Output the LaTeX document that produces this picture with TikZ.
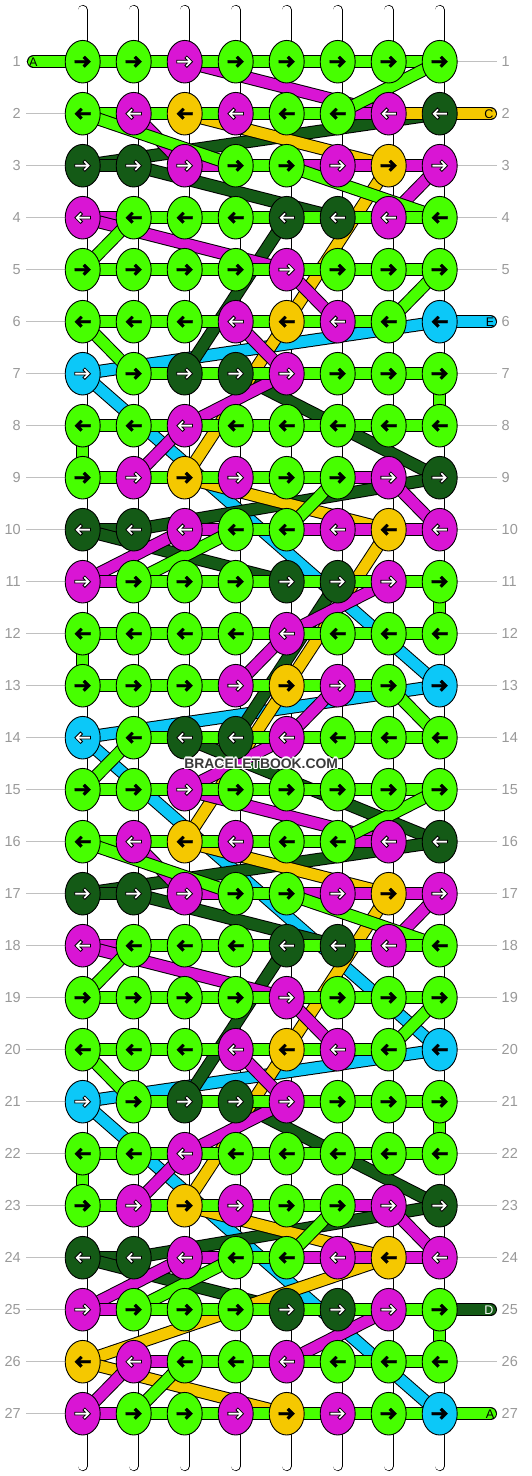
\documentclass[tikz,border=0pt]{standalone}
\usepackage{fontspec}
\setmainfont{Liberation Sans}
\usetikzlibrary{shapes.geometric}
\definecolor{cG}{HTML}{47FF00}
\definecolor{cM}{HTML}{D915D4}
\definecolor{cY}{HTML}{F5C800}
\definecolor{cD}{HTML}{145A16}
\definecolor{cC}{HTML}{0CC8F8}
\definecolor{numgrey}{HTML}{999999}
\definecolor{linegrey}{HTML}{C0C0C0}
\definecolor{wmgrey}{HTML}{3A3A3A}
\pgfdeclarelayer{bars}
\pgfdeclarelayer{strings}
\pgfsetlayers{bars,strings,main}
\tikzset{
 knot/.style={ellipse, draw=black, line width=0.9pt, minimum width=35pt, minimum height=42.6pt, inner sep=0pt, outer sep=0pt},
 knotG/.style={knot, fill=cG}, knotM/.style={knot, fill=cM}, knotY/.style={knot, fill=cY},
 knotD/.style={knot, fill=cD}, knotC/.style={knot, fill=cC}, knotc/.style={knot, fill=cC},
 blackarr/.style={fill=black, draw=black, line width=0.3pt, line join=miter},
 whitearr/.style={fill=white, draw=black, line width=0.8pt, line join=miter},
 arrG/.style={blackarr}, arrY/.style={blackarr}, arrc/.style={blackarr},
 arrM/.style={whitearr}, arrD/.style={whitearr}, arrC/.style={whitearr},
 str/.style={line width=1pt, double distance=11pt, line cap=round, line join=round},
 strG/.style={str, double=cG}, strM/.style={str, double=cM}, strY/.style={str, double=cY},
 strD/.style={str, double=cD}, strC/.style={str, double=cC},
 bar/.style={line width=0.8pt, double=white, double distance=8.6pt, line cap=round},
 rowline/.style={draw=linegrey, line width=1pt},
 rownum/.style={text=numgrey, font=\fontsize{14.5}{14.5}\selectfont, inner sep=0pt},
 lab/.style={font=\fontsize{12.5}{12.5}\selectfont, inner sep=0pt},
 wm/.style={font=\bfseries\fontsize{13.9}{13.9}\selectfont, inner sep=0pt},
}
\begin{document}
\begin{tikzpicture}[x=1pt, y=-1pt]
\useasboundingbox (0,0) rectangle (532,1476);
\begin{pgfonlayer}{bars}
\fill[white] (0,0) rectangle (532,1476);
\foreach \c in {1,...,8} {
  \draw[bar] (31.7+51*\c,10) -- (31.7+51*\c,1466);
}
\end{pgfonlayer}

% knots
\foreach \r/\row in {
1/{G,G,M,G,G,G,G,G},
2/{G,M,Y,M,G,G,M,D},
3/{D,D,M,G,G,M,Y,M},
4/{M,G,G,G,D,D,M,G},
5/{G,G,G,G,M,G,G,G},
6/{G,G,G,M,Y,M,G,c},
7/{C,G,D,D,M,G,G,G},
8/{G,G,M,G,G,G,G,G},
9/{G,M,Y,M,G,G,M,D},
10/{D,D,M,G,G,M,Y,M},
11/{M,G,G,G,D,D,M,G},
12/{G,G,G,G,M,G,G,G},
13/{G,G,G,M,Y,M,G,c},
14/{C,G,D,D,M,G,G,G},
15/{G,G,M,G,G,G,G,G},
16/{G,M,Y,M,G,G,M,D},
17/{D,D,M,G,G,M,Y,M},
18/{M,G,G,G,D,D,M,G},
19/{G,G,G,G,M,G,G,G},
20/{G,G,G,M,Y,M,G,c},
21/{C,G,D,D,M,G,G,G},
22/{G,G,M,G,G,G,G,G},
23/{G,M,Y,M,G,G,M,D},
24/{D,D,M,G,G,M,Y,M},
25/{M,G,G,G,D,D,M,G},
26/{Y,M,G,G,M,G,G,G},
27/{M,G,G,M,Y,M,G,c}} {
  \pgfmathsetmacro\Y{61.7+52*(\r-1)}
  \pgfmathsetmacro\dir{mod(\r,2)==1 ? 1 : -1}
  \foreach \col [count=\c] in \row {
    \pgfmathsetmacro\X{82.7+51*(\c-1)}
    \node[knot\col] (k\r-\c) at (\X,\Y) {};
    \draw[arr\col, shift={(\X,\Y)}, xscale=\dir*0.86, yscale=0.86]
      (-9.13,1.6) -- (3.01,1.6) -- (0.24,4.37) -- (2.5,6.63) -- (9.13,0)
      -- (2.5,-6.63) -- (0.24,-4.37) -- (3.01,-1.6) -- (-9.13,-1.6) -- cycle;
  }
}

\coordinate (LA) at (33.5,61.7);
\coordinate (RC) at (490.5,113.7);
\coordinate (RE) at (490.5,321.7);
\coordinate (RD) at (490.5,1309.7);
\coordinate (RA) at (490.5,1413.7);

\begin{pgfonlayer}{strings}
\foreach \r in {1,...,27} {
  \pgfmathsetmacro\Y{61.7+52*(\r-1)}
  \draw[rowline] (26,\Y) -- (k\r-1.center);
  \draw[rowline] (k\r-8.center) -- (497,\Y);
}
% cyan (E)
\foreach \p [remember=\p as \q (initially RE)] in {k6-8,k7-1,k13-8,k14-1,k20-8,k21-1,k27-8}
  \draw[strC] (\q.center) -- (\p.center);
% dark green (D)
\foreach \p [remember=\p as \q (initially k2-8)] in {k3-1,k3-2,k4-6,k4-5,k7-3,k7-4,k9-8,k10-2,k10-1,k11-5,k11-6,k14-4,k14-3,k16-8,k17-1,k17-2,k18-6,k18-5,k21-3,k21-4,k23-8,k24-2,k24-1,k25-5,k25-6,RD}
  \draw[strD] (\q.center) -- (\p.center);
% yellow (C)
\foreach \p [remember=\p as \q (initially RC)] in {k2-3,k3-7,k6-5,k9-3,k10-7,k13-5,k16-3,k17-7,k20-5,k23-3,k24-7,k26-1,k27-5}
  \draw[strY] (\q.center) -- (\p.center);
% magenta
\foreach \p [remember=\p as \q (initially k1-3)] in {k2-7,k2-2,k3-3,k3-8,k4-7,k4-1,k5-5,k6-6,k6-4,k7-5,k8-3,k9-2,k9-7,k10-8,k10-3,k11-1,k11-7,k12-5,k13-4,k13-6,k14-5,k15-3,k16-7,k16-2,k17-3,k17-8,k18-7,k18-1,k19-5,k20-6,k20-4,k21-5,k22-3,k23-2,k23-7,k24-8,k24-3,k25-1,k25-7,k26-5,k26-2,k27-1,k27-6}
  \draw[strM] (\q.center) -- (\p.center);
% green (A)
\foreach \p [remember=\p as \q (initially LA)] in {k1-8,k2-6,k2-1,k3-4,k3-5,k4-8,k4-2,k5-1,k5-8,k6-7,k6-1,k7-2,k7-8,k8-8,k8-1,k9-1,k9-6,k10-5,k10-4,k11-2,k11-8,k12-8,k12-1,k13-1,k13-7,k14-8,k14-2,k15-1,k15-8,k16-6,k16-1,k17-4,k17-5,k18-8,k18-2,k19-1,k19-8,k20-7,k20-1,k21-2,k21-8,k22-8,k22-1,k23-1,k23-6,k24-5,k24-4,k25-2,k25-8,k26-8,k26-3,k27-2,k27-7,RA}
  \draw[strG] (\q.center) -- (\p.center);
\end{pgfonlayer}

% row numbers
\foreach \r in {1,...,27} {
  \pgfmathsetmacro\Y{61.7+52*(\r-1)}
  \node[rownum, anchor=east] (ln\r) at (21,\Y) {\r};
  \node[rownum, anchor=west] (rn\r) at (501.5,\Y) {\r};
}
% string labels
\node[lab, text=black] (tA1) at (33.3,61.7) {A};
\node[lab, text=black] (tC) at (489,113.7) {C};
\node[lab, text=black] (tE) at (490,321.7) {E};
\node[lab, text=white] (tD) at (489,1309.7) {D};
\node[lab, text=black] (tA2) at (490,1413.7) {A};

% watermark
\foreach \dx/\dy [count=\i] in {-1.3/0,1.3/0,0/-1.3,0/1.3,-0.9/-0.9,0.9/-0.9,-0.9/0.9,0.9/0.9}
  \node[wm, text=white] (wmh\i) at (261.2+\dx,763.5+\dy) {BRACELETBOOK.COM};
\node[wm, text=wmgrey] (wm) at (261.2,763.5) {BRACELETBOOK.COM};
\end{tikzpicture}
\end{document}
